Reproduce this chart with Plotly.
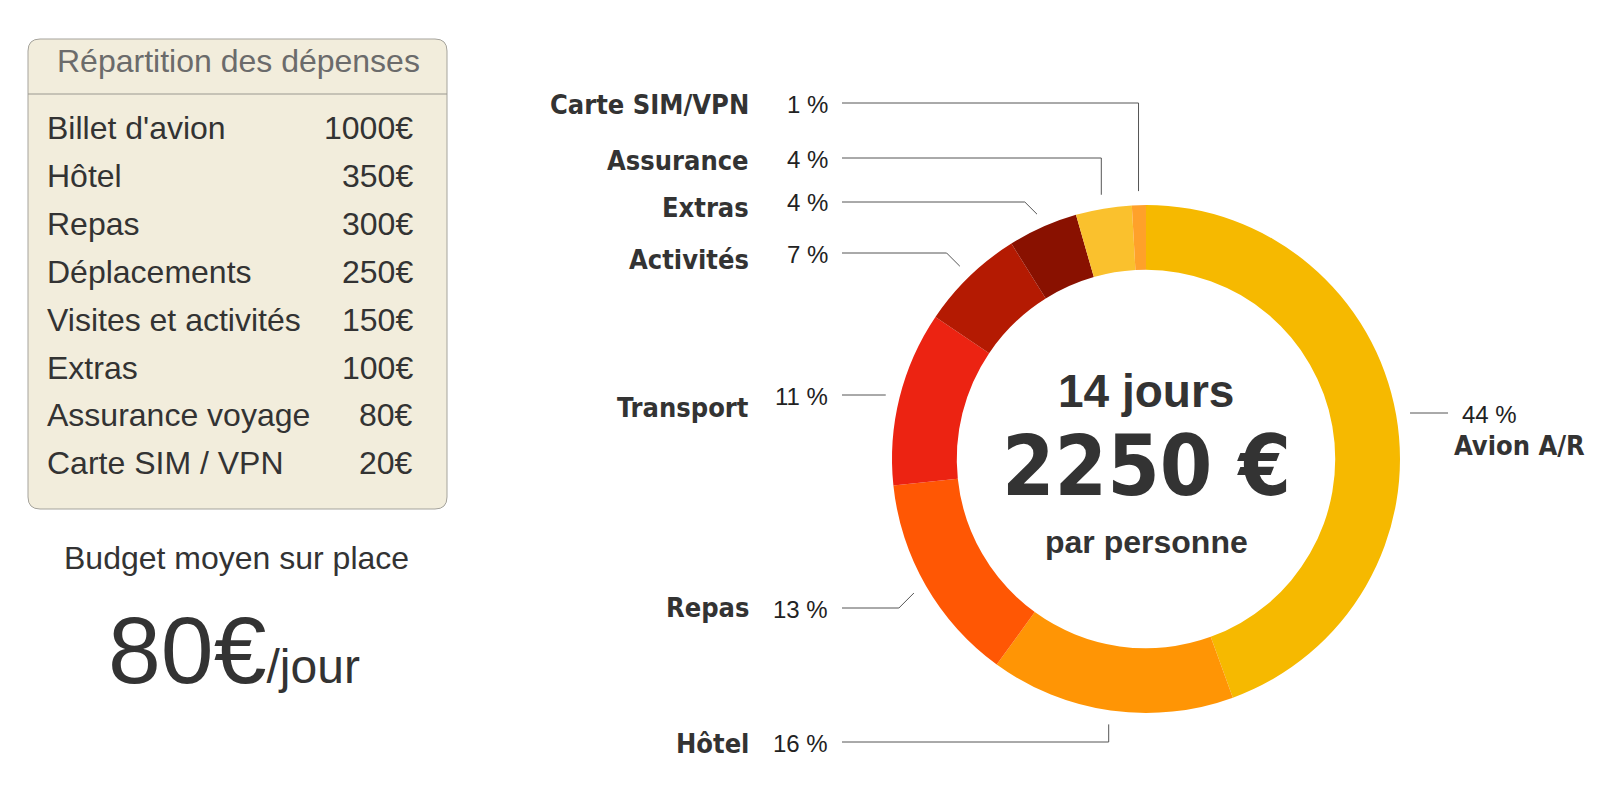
import math
import plotly.graph_objects as go

# ---------------- data ----------------
categories = ["Avion A/R", "Hôtel", "Repas", "Transport", "Activités", "Extras", "Assurance", "Carte SIM/VPN"]
amounts = [1000, 350, 300, 250, 150, 100, 80, 20]

table_labels = ["Billet d'avion", "Hôtel", "Repas", "Déplacements", "Visites et activités",
                "Extras", "Assurance voyage", "Carte SIM / VPN"]
table_values = [1000, 350, 300, 250, 150, 100, 80, 20]

trip_days = 14
daily_budget = 80
total = sum(amounts)

# ---------------- styles ----------------
slice_colors = ["#F6B900", "#FF9505", "#FF5704", "#EC2312", "#B41A02", "#891100", "#FAC12D", "#FFA12A"]
label_line_y = [413, 742, 608, 395, 253, 202, 158, 103]      # leader line y per category
label_name_y = [445, 743, 607, 407, 260, 207, 160, 105]      # name text y per category
leader_style = ["flat", "vert", "diag", "flat", "diag", "diag", "vert", "vert"]

# page body has an 8px margin: figure is placed at (8, 8)
OFF = 8
W, H = 1584, 788
CX, CY, R = 1146, 459, 254
HOLE = 0.745
R_LEAD = R + 14

DARK = "#333333"
NAME_FONT = "DejaVu Sans Condensed, Liberation Sans Narrow, sans-serif"
SANS = "Liberation Sans, Arial, Helvetica, sans-serif"


def px(x):
    return (x - OFF) / W


def py(y):
    return 1 - (y - OFF) / H


fig = go.Figure()
fig.add_trace(go.Pie(
    values=amounts, labels=categories, sort=False, direction="clockwise", rotation=0,
    hole=HOLE, textinfo="none", hoverinfo="label+value+percent",
    marker=dict(colors=slice_colors, line=dict(width=0)),
    domain=dict(x=[px(CX - R), px(CX + R)], y=[py(CY + R), py(CY - R)]),
    showlegend=False,
))

shapes = []
annotations = []


def text(x, y, s, size, family=SANS, color=DARK, xanchor="center"):
    annotations.append(dict(x=px(x), y=py(y), xref="paper", yref="paper", text=s, showarrow=False,
                            xanchor=xanchor, yanchor="middle",
                            font=dict(family=family, size=size, color=color)))


# ---------- left panel: table box ----------
bx0, by0, bx1, by1, rr = 28, 39, 447, 509, 12
path = (f"M {px(bx0 + rr)},{py(by0)} L {px(bx1 - rr)},{py(by0)} "
        f"Q {px(bx1)},{py(by0)} {px(bx1)},{py(by0 + rr)} L {px(bx1)},{py(by1 - rr)} "
        f"Q {px(bx1)},{py(by1)} {px(bx1 - rr)},{py(by1)} L {px(bx0 + rr)},{py(by1)} "
        f"Q {px(bx0)},{py(by1)} {px(bx0)},{py(by1 - rr)} L {px(bx0)},{py(by0 + rr)} "
        f"Q {px(bx0)},{py(by0)} {px(bx0 + rr)},{py(by0)} Z")
shapes.append(dict(type="path", xref="paper", yref="paper", path=path,
                   fillcolor="#F2EDDC", line=dict(color="#A5A39C", width=1), layer="below"))
shapes.append(dict(type="line", xref="paper", yref="paper", x0=px(bx0), x1=px(bx1),
                   y0=py(94), y1=py(94), line=dict(color="#9A9890", width=1)))

text(238, 61, "Répartition des dépenses", 32, color="#6B6B6B")
row_y0, row_dy = 128, 47.9
for i, (lab, val) in enumerate(zip(table_labels, table_values)):
    y = row_y0 + i * row_dy
    text(45, y, lab, 32, xanchor="left")
    text(415, y, f"{val}€", 32, xanchor="right")

text(236, 558, "Budget moyen sur place", 32)
text(106, 650, f"{daily_budget}€<span style='font-size:48px'>/jour</span>", 95, xanchor="left")

# ---------- centre texts ----------
text(CX, 391, f"<b>{trip_days} jours</b>", 46)
text(CX, 466, f"<b>{total} €</b>", 84, family=NAME_FONT)
text(CX, 542, "<b>par personne</b>", 32)

# ---------- outside labels with leader lines ----------
cum = 0
LINE_X0 = 842
for i, (cat, v) in enumerate(zip(categories, amounts)):
    mid = (cum + v / 2) / total
    cum += v
    th = 2 * math.pi * mid
    ppx = CX + R_LEAD * math.sin(th)
    ppy = CY - R_LEAD * math.cos(th)
    ly = label_line_y[i]
    pct = f"{round(v / total * 100)} %"
    st = leader_style[i]
    if ppx > CX:  # right side label
        xs = CX + math.sqrt(R_LEAD ** 2 - (ly - CY) ** 2)
        pts = [(xs, ly), (xs + 38, ly)]
        text(1460, ly + 1, pct, 24, color="#222222", xanchor="left")
        text(1452, label_name_y[i], f"<b>{cat}</b>", 27, family=NAME_FONT, xanchor="left")
    else:
        if st == "flat":
            xe = CX - math.sqrt(R_LEAD ** 2 - (ly - CY) ** 2)
            pts = [(LINE_X0, ly), (xe, ly)]
        elif st == "vert":
            pts = [(LINE_X0, ly), (ppx, ly), (ppx, ppy)]
        else:
            pts = [(LINE_X0, ly), (ppx - abs(ppy - ly), ly), (ppx, ppy)]
        text(830, ly + 1, pct, 24, color="#222222", xanchor="right")
        text(751, label_name_y[i], f"<b>{cat}</b>", 27, family=NAME_FONT, xanchor="right")
    d = "M " + " L ".join(f"{px(a)},{py(b)}" for a, b in pts)
    shapes.append(dict(type="path", xref="paper", yref="paper", path=d,
                       line=dict(color="#555555", width=1)))

fig.update_layout(
    width=W, height=H, margin=dict(l=0, r=0, t=0, b=0),
    paper_bgcolor="white", plot_bgcolor="white",
    shapes=shapes, annotations=annotations, showlegend=False,
)

fig.write_html("out.html")
